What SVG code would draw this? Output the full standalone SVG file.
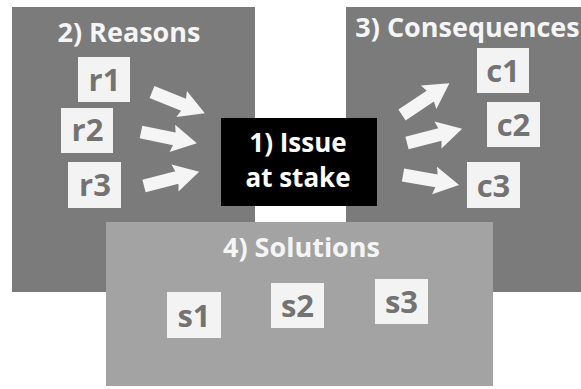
<svg xmlns="http://www.w3.org/2000/svg" width="581" height="389" viewBox="0 0 581 389">
  <style>
    .panel{fill:#7b7b7b}
    .panel2{fill:#a3a3a3}
    .box{fill:#f3f3f3}
    .title{font-family:"Open Sans","Liberation Sans",sans-serif;font-weight:bold;font-size:27px;fill:#f5f5f5;text-anchor:middle}
    .lbl{font-family:"Open Sans","Liberation Sans",sans-serif;font-weight:bold;font-size:31px;fill:#737373;text-anchor:middle}
    .issue{font-family:"Open Sans","Liberation Sans",sans-serif;font-weight:bold;font-size:26px;fill:#ffffff;text-anchor:middle}
    .arrow{fill:#f5f5f5}
  </style>
  <defs>
    <path id="arr" d="M0,-6.5 L34,-6.5 L32,-14 L57,0 L32,14 L34,6.5 L0,6.5 Z"/>
  </defs>
  <g id="reasons">
    <rect class="panel" x="12" y="7" width="243" height="285"/>
    <text class="title" x="129" y="42">2) Reasons</text>
    <g id="r1"><rect class="box" x="78" y="57" width="52" height="45"/><text class="lbl" x="104.5" y="91">r1</text></g>
    <g id="r2"><rect class="box" x="61" y="108" width="52" height="45"/><text class="lbl" x="87.5" y="141">r2</text></g>
    <g id="r3"><rect class="box" x="68" y="162" width="53" height="46"/><text class="lbl" x="95" y="196">r3</text></g>
  </g>
  <g id="consequences">
    <rect class="panel" x="346" y="7" width="235" height="285"/>
    <text class="title" x="467.5" y="37">3) Consequences</text>
    <g id="c1"><rect class="box" x="477" y="48" width="52" height="45"/><text class="lbl" x="503" y="82">c1</text></g>
    <g id="c2"><rect class="box" x="487" y="102" width="53" height="45"/><text class="lbl" x="513.5" y="136">c2</text></g>
    <g id="c3"><rect class="box" x="467" y="162" width="53" height="46"/><text class="lbl" x="493.5" y="197">c3</text></g>
  </g>
  <g id="issue">
    <rect x="221" y="118" width="156" height="88" fill="#000"/>
    <text class="issue" x="298" y="152">1) Issue</text>
    <text class="issue" x="298" y="187">at stake</text>
  </g>
  <g id="solutions">
    <rect class="panel2" x="106" y="222" width="387" height="164"/>
    <text class="title" x="301.5" y="257">4) Solutions</text>
    <g id="s1"><rect class="box" x="167" y="292" width="54" height="46"/><text class="lbl" x="194" y="327">s1</text></g>
    <g id="s2"><rect class="box" x="271" y="283" width="53" height="45"/><text class="lbl" x="297.5" y="317">s2</text></g>
    <g id="s3"><rect class="box" x="375" y="279" width="53" height="45"/><text class="lbl" x="401.5" y="313">s3</text></g>
  </g>
  <g id="connectors" class="arrow">
    <use href="#arr" transform="translate(152,92) rotate(22)"/>
    <use href="#arr" transform="translate(141,132) rotate(11.5)"/>
    <use href="#arr" transform="translate(144,186) rotate(-14.5)"/>
    <use href="#arr" transform="translate(402,115) rotate(-33.7)"/>
    <use href="#arr" transform="translate(407,143) rotate(-14.5)"/>
    <use href="#arr" transform="translate(403,175) rotate(10)"/>
  </g>
</svg>
